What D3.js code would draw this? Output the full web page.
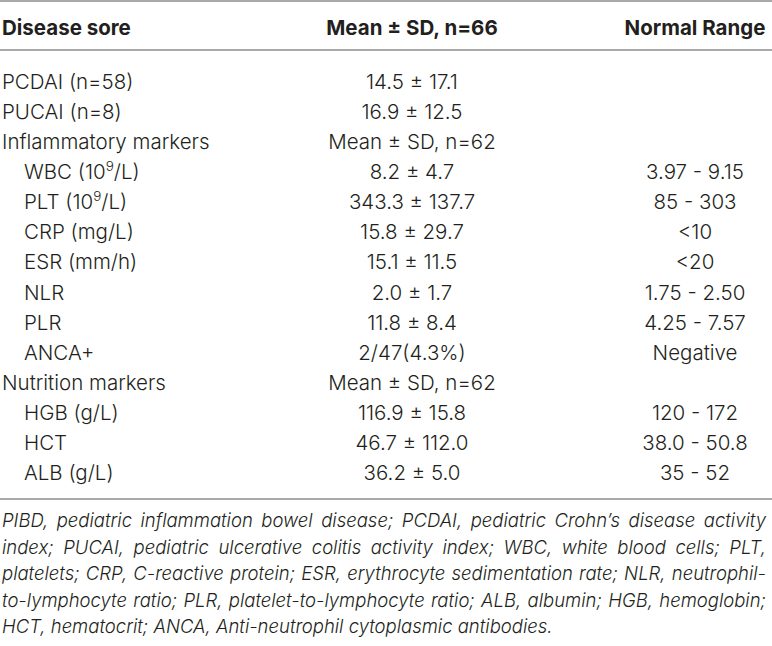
<!DOCTYPE html>
<html>
<head>
<meta charset="utf-8">
<script src="https://cdn.jsdelivr.net/npm/d3@7"></script>
<style>
  html, body { margin: 0; padding: 0; background: #fff; }
  svg { display: block; }
</style>
</head>
<body>
<div id="table"></div>
<script>
// Row labels of the table ("^9" marks a superscript)
var rowLabels = [
    'PCDAI (n=58)', 'PUCAI (n=8)', 'Inflammatory markers',
    'WBC (10^9/L)', 'PLT (10^9/L)', 'CRP (mg/L)', 'ESR (mm/h)',
    'NLR', 'PLR', 'ANCA+', 'Nutrition markers',
    'HGB (g/L)', 'HCT', 'ALB (g/L)'
];
// Group rows are not indented
var groupRows = [true, true, true, false, false, false, false,
                 false, false, false, true, false, false, false];
// Mean ± SD column
var meanValues = [
    '14.5 ± 17.1', '16.9 ± 12.5', 'Mean ± SD, n=62',
    '8.2 ± 4.7', '343.3 ± 137.7', '15.8 ± 29.7', '15.1 ± 11.5',
    '2.0 ± 1.7', '11.8 ± 8.4', '2/47(4.3%)', 'Mean ± SD, n=62',
    '116.9 ± 15.8', '46.7 ± 112.0', '36.2 ± 5.0'
];
// Normal range column
var normalRanges = [
    '', '', '',
    '3.97 - 9.15', '85 - 303', '<10', '<20',
    '1.75 - 2.50', '4.25 - 7.57', 'Negative', '',
    '120 - 172', '38.0 - 50.8', '35 - 52'
];
// Column headers
var headers = ['Disease sore', 'Mean ± SD, n=66', 'Normal Range'];
// Footnote lines
var footLines = [
    'PIBD, pediatric inflammation bowel disease; PCDAI, pediatric Crohn’s disease activity',
    'index; PUCAI, pediatric ulcerative colitis activity index; WBC, white blood cells; PLT,',
    'platelets; CRP, C-reactive protein; ESR, erythrocyte sedimentation rate; NLR, neutrophil-',
    'to-lymphocyte ratio; PLR, platelet-to-lymphocyte ratio; ALB, albumin; HGB, hemoglobin;',
    'HCT, hematocrit; ANCA, Anti-neutrophil cytoplasmic antibodies.'
];

var width = 772,
    height = 646,
    textColor = '#231f20',
    ruleColor = '#8c8c8c',
    bodyFont = 'Inter, Roboto, "Liberation Sans", sans-serif';

var svg = d3.select('#table')
    .append('svg')
    .attr('width', width)
    .attr('height', height)
    .attr('font-family', bodyFont)
    .attr('fill', textColor);

// Vertical position of each data row (baseline)
var yScale = d3.scalePoint()
    .domain(d3.range(rowLabels.length))
    .range([89, 480]);

// Horizontal anchors of the three columns
var colX = { label: 2, indent: 24, mean: 412, range: 695 };

// Horizontal rules
[1, 50, 499].forEach(function(y) {
    svg.append('line')
        .attr('x1', 0).attr('x2', width)
        .attr('y1', y).attr('y2', y)
        .attr('stroke', ruleColor)
        .attr('stroke-width', 1.4);
});

// Header row
var head = svg.append('g')
    .attr('font-weight', 700)
    .attr('font-size', '20.5px');
head.append('text').attr('x', colX.label).attr('y', 35).text(headers[0]);
head.append('text').attr('x', colX.mean).attr('y', 35)
    .attr('text-anchor', 'middle').text(headers[1]);
head.append('text').attr('x', colX.range).attr('y', 35)
    .attr('text-anchor', 'middle').text(headers[2]);

// Body rows
var rows = svg.append('g')
    .attr('font-weight', 300)
    .attr('font-size', '20.5px')
    .selectAll('g.row')
    .data(rowLabels)
    .enter()
    .append('g')
    .classed('row', true)
    .attr('transform', function(d, i) { return 'translate(0,' + yScale(i) + ')'; });

// Label with optional superscript
rows.append('text')
    .attr('x', function(d, i) { return groupRows[i] ? colX.label : colX.indent; })
    .each(function(d) {
        var t = d3.select(this);
        var parts = d.split(/\^(\d+)/),
            raised = false;
        parts.forEach(function(p, k) {
            if (p === '') return;
            var span = t.append('tspan').text(p);
            if (k % 2 === 1) {
                span.attr('dy', -8).attr('font-size', '13.5px');
                raised = true;
            } else if (raised) {
                span.attr('dy', 8);
                raised = false;
            }
        });
    });

rows.append('text')
    .attr('x', colX.mean)
    .attr('text-anchor', 'middle')
    .text(function(d, i) { return meanValues[i]; });

rows.append('text')
    .attr('x', colX.range)
    .attr('text-anchor', 'middle')
    .text(function(d, i) { return normalRanges[i]; });

// Footnote, justified line by line
var footY = d3.scalePoint()
    .domain(d3.range(footLines.length))
    .range([527, 633]);

var footWidth = 764;

var foot = svg.append('g')
    .attr('font-style', 'italic')
    .attr('font-weight', 300)
    .attr('font-size', '18.5px');

foot.selectAll('text')
    .data(footLines)
    .enter()
    .append('text')
    .attr('x', 2)
    .attr('y', function(d, i) { return footY(i); })
    .text(function(d) { return d; })
    .each(function(d, i) {
        if (i === footLines.length - 1) return;
        var natural = this.getComputedTextLength(),
            spaces = d.split(' ').length - 1;
        // Spread the words so the line fills the width
        d3.select(this).attr('word-spacing', Math.max(0, footWidth - natural) / spaces);
    });
</script>
</body>
</html>
